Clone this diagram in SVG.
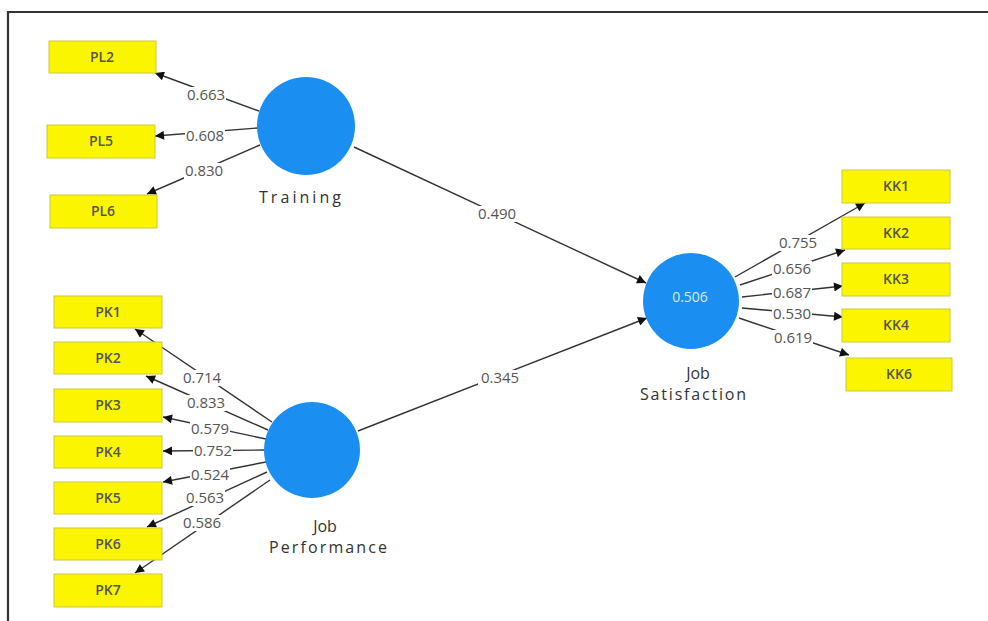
<svg xmlns="http://www.w3.org/2000/svg" width="988" height="621" viewBox="0 0 988 621">
<style>
.box{fill:#fbf500;stroke:#cfc840;stroke-width:1}
.bt{font-family:"Open Sans","Liberation Sans",sans-serif;font-size:14px;font-weight:600;fill:#555;text-anchor:middle}
.lv{font-family:"Open Sans","Liberation Sans",sans-serif;font-size:15px;fill:#555;text-anchor:middle}
.bg{fill:#fff}
.ln{stroke:#333;stroke-width:1.4;fill:none;marker-end:url(#ah)}
.lv2{font-family:"Open Sans","Liberation Sans",sans-serif;font-size:16px;fill:#333;text-anchor:middle}
.circ{fill:#1b8ef2}
</style>
<defs>
<marker id="ah" viewBox="0 0 10 10" refX="10" refY="5" markerWidth="10" markerHeight="9" markerUnits="userSpaceOnUse" orient="auto">
<path d="M0,0 L10,5 L0,10 z" fill="#111"/>
</marker>
</defs>
<rect width="988" height="621" fill="#fff"/>
<path d="M8,621 V12 H988" fill="none" stroke="#333" stroke-width="2.2"/>

<g id="connectors">
<line class="ln" x1="259" y1="111" x2="155" y2="73"/>
<line class="ln" x1="258" y1="128" x2="155" y2="136"/>
<line class="ln" x1="260" y1="145" x2="147" y2="194"/>
<line class="ln" x1="272" y1="422" x2="135" y2="329"/>
<line class="ln" x1="268" y1="430" x2="146" y2="376"/>
<line class="ln" x1="266" y1="439" x2="163" y2="417"/>
<line class="ln" x1="264" y1="450" x2="163" y2="451"/>
<line class="ln" x1="266" y1="462" x2="163" y2="482"/>
<line class="ln" x1="267" y1="472" x2="147" y2="527"/>
<line class="ln" x1="270" y1="480" x2="135" y2="573"/>
<line class="ln" x1="354" y1="147" x2="646" y2="283"/>
<line class="ln" x1="358" y1="431" x2="647" y2="318"/>
<line class="ln" x1="735" y1="277" x2="865" y2="203"/>
<line class="ln" x1="740" y1="285" x2="845" y2="250"/>
<line class="ln" x1="742" y1="297" x2="843" y2="286"/>
<line class="ln" x1="742" y1="308" x2="843" y2="317"/>
<line class="ln" x1="739" y1="318" x2="849" y2="355"/>
<rect class="bg" x="186" y="87" width="40" height="16"/><text class="lv" x="206" y="100">0.663</text>
<rect class="bg" x="185" y="128" width="40" height="16"/><text class="lv" x="205" y="141">0.608</text>
<rect class="bg" x="184" y="163" width="40" height="16"/><text class="lv" x="204" y="176">0.830</text>
<rect class="bg" x="182" y="370" width="40" height="16"/><text class="lv" x="202" y="383">0.714</text>
<rect class="bg" x="186" y="395" width="40" height="16"/><text class="lv" x="206" y="408">0.833</text>
<rect class="bg" x="190" y="421" width="40" height="16"/><text class="lv" x="210" y="434">0.579</text>
<rect class="bg" x="193" y="443" width="40" height="16"/><text class="lv" x="213" y="456">0.752</text>
<rect class="bg" x="190" y="467" width="40" height="16"/><text class="lv" x="210" y="480">0.524</text>
<rect class="bg" x="185" y="490" width="40" height="16"/><text class="lv" x="205" y="503">0.563</text>
<rect class="bg" x="182" y="515" width="40" height="16"/><text class="lv" x="202" y="528">0.586</text>
<rect class="bg" x="475" y="206" width="44" height="16"/><text class="lv" x="497" y="219">0.490</text>
<rect class="bg" x="478" y="370" width="44" height="16"/><text class="lv" x="500" y="383">0.345</text>
<rect class="bg" x="778" y="235" width="40" height="16"/><text class="lv" x="798" y="248">0.755</text>
<rect class="bg" x="772" y="261" width="40" height="16"/><text class="lv" x="792" y="274">0.656</text>
<rect class="bg" x="772" y="285" width="40" height="16"/><text class="lv" x="792" y="298">0.687</text>
<rect class="bg" x="772" y="306" width="40" height="16"/><text class="lv" x="792" y="319">0.530</text>
<rect class="bg" x="773" y="330" width="40" height="16"/><text class="lv" x="793" y="343">0.619</text>
</g>

<g id="training"><circle class="circ" cx="306" cy="126" r="49"/><text class="lv2" x="300" y="203" textLength="82" lengthAdjust="spacing">Training</text></g>
<g id="job-performance"><circle class="circ" cx="312" cy="450" r="48"/><text class="lv2" x="325" y="532">Job</text><text class="lv2" x="328" y="553" textLength="118" lengthAdjust="spacing">Performance</text></g>
<g id="job-satisfaction"><circle class="circ" cx="691" cy="301" r="48"/><text x="690" y="302" font-family="Open Sans, Liberation Sans, sans-serif" font-size="14" fill="#d8ecff" text-anchor="middle">0.506</text><text class="lv2" x="698" y="379">Job</text><text class="lv2" x="693" y="400" textLength="106" lengthAdjust="spacing">Satisfaction</text></g>

<g id="PL2"><rect class="box" x="49" y="41" width="107" height="32"/><text class="bt" x="102" y="62">PL2</text></g>
<g id="PL5"><rect class="box" x="47" y="125" width="108" height="33"/><text class="bt" x="101" y="146">PL5</text></g>
<g id="PL6"><rect class="box" x="50" y="195" width="107" height="33"/><text class="bt" x="103" y="216">PL6</text></g>

<g id="PK1"><rect class="box" x="54" y="296" width="108" height="32"/><text class="bt" x="108" y="317">PK1</text></g>
<g id="PK2"><rect class="box" x="54" y="342" width="108" height="32"/><text class="bt" x="108" y="363">PK2</text></g>
<g id="PK3"><rect class="box" x="54" y="389" width="108" height="33"/><text class="bt" x="108" y="410">PK3</text></g>
<g id="PK4"><rect class="box" x="54" y="436" width="108" height="32"/><text class="bt" x="108" y="457">PK4</text></g>
<g id="PK5"><rect class="box" x="54" y="482" width="108" height="32"/><text class="bt" x="108" y="503">PK5</text></g>
<g id="PK6"><rect class="box" x="54" y="528" width="108" height="32"/><text class="bt" x="108" y="549">PK6</text></g>
<g id="PK7"><rect class="box" x="54" y="574" width="108" height="33"/><text class="bt" x="108" y="595">PK7</text></g>

<g id="KK1"><rect class="box" x="842" y="170" width="108" height="33"/><text class="bt" x="896" y="191">KK1</text></g>
<g id="KK2"><rect class="box" x="842" y="217" width="108" height="32"/><text class="bt" x="896" y="238">KK2</text></g>
<g id="KK3"><rect class="box" x="842" y="263" width="108" height="33"/><text class="bt" x="896" y="284">KK3</text></g>
<g id="KK4"><rect class="box" x="842" y="309" width="108" height="33"/><text class="bt" x="896" y="330">KK4</text></g>
<g id="KK6"><rect class="box" x="846" y="358" width="106" height="33"/><text class="bt" x="899" y="379">KK6</text></g>
</svg>
